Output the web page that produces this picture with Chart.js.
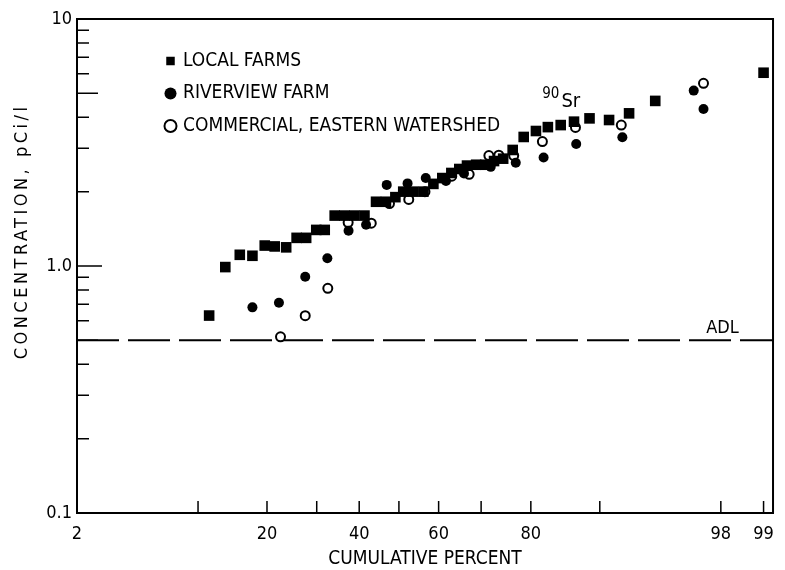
<!DOCTYPE html>
<html>
<head>
<meta charset="utf-8">
<script src="https://cdn.jsdelivr.net/npm/chart.js@4.4.0/dist/chart.umd.min.js"></script>
<style>
  html, body { margin: 0; padding: 0; background: #fff; }
  #wrap { width: 785px; height: 570px; }
</style>
</head>
<body>
<div id="wrap"><canvas id="chart"></canvas></div>
<script>
// cumulative percent and concentration (pCi/l)
var localPct  = [11.3, 13.4, 15.5, 17.5, 19.6, 21.4, 23.6, 25.7, 27.7, 29.9, 31.8, 34.1, 36.4, 38.8, 41.3,
                 44.2, 46.7, 49.1, 51.1, 53.6, 56.2, 58.7, 60.9, 63.1, 65.0, 66.8, 68.9, 70.9, 72.8, 74.7,
                 76.6, 78.7, 80.9, 82.9, 84.9, 86.8, 88.8, 91.0, 92.9, 94.9, 99.0];
var localConc = [0.63, 0.99, 1.11, 1.10, 1.21, 1.20, 1.19, 1.30, 1.30, 1.40, 1.40, 1.60, 1.60, 1.60, 1.60,
                 1.82, 1.82, 1.90, 2.00, 2.00, 2.00, 2.15, 2.27, 2.38, 2.47, 2.55, 2.57, 2.57, 2.66, 2.72,
                 2.95, 3.33, 3.52, 3.65, 3.72, 3.84, 3.96, 3.90, 4.15, 4.66, 6.06];

var riverPct  = [17.5, 22.2, 27.5, 32.4, 37.4, 41.7, 46.9, 52.2, 56.8, 61.8, 66.1, 72.1, 77.2, 82.2, 87.1, 92.3, 97.0, 97.4];
var riverConc = [0.68, 0.71, 0.905, 1.075, 1.39, 1.47, 2.13, 2.16, 2.27, 2.21, 2.37, 2.52, 2.62, 2.75, 3.12, 3.32, 5.13, 4.32];

var commPct  = [22.5, 27.5, 32.5, 37.3, 43.0, 47.6, 52.5, 56.6, 63.2, 67.3, 71.7, 73.8, 76.8, 82.0, 87.0, 92.2, 97.4];
var commConc = [0.517, 0.629, 0.812, 1.50, 1.49, 1.79, 1.86, 2.00, 2.31, 2.35, 2.80, 2.81, 2.80, 3.19, 3.64, 3.72, 5.49];

var xTicks  = [2, 10, 20, 30, 40, 50, 60, 70, 80, 90, 98, 99];
var xLabels = ['2', '', '20', '', '40', '', '60', '', '80', '', '98', '99'];
var xMin = 2, xMax = 99.15;
var yTicks  = [0.1, 0.2, 0.3, 0.4, 0.5, 0.6, 0.7, 0.8, 0.9, 1, 2, 3, 4, 5, 6, 7, 8, 9, 10];
var yLabels = { 0.1: '0.1', 1: '1.0', 10: '10' };
var adl = 0.5;
var yTitle = 'CONCENTRATION, pCi/l';

var FONT = "'DejaVu Sans Condensed', 'DejaVu Sans', sans-serif";

// inverse normal cdf (Acklam) -> probability axis
function probit(p) {
  var a = [-39.69683028665376, 220.9460984245205, -275.9285104469687, 138.3577518672690, -30.66479806614716, 2.506628277459239];
  var b = [-54.47609879822406, 161.5858368580409, -155.6989798598866, 66.80131188771972, -13.28068155288572];
  var c = [-0.007784894002430293, -0.3223964580411365, -2.400758277161838, -2.549671010139197, 4.374664141464968, 2.938163982698783];
  var d = [0.007784695709041462, 0.3224671290700398, 2.445134137142996, 3.754408661907416];
  var q, r;
  if (p < 0.02425) {
    q = Math.sqrt(-2 * Math.log(p));
    return (((((c[0]*q+c[1])*q+c[2])*q+c[3])*q+c[4])*q+c[5]) / ((((d[0]*q+d[1])*q+d[2])*q+d[3])*q+1);
  }
  if (p > 1 - 0.02425) {
    q = Math.sqrt(-2 * Math.log(1 - p));
    return -(((((c[0]*q+c[1])*q+c[2])*q+c[3])*q+c[4])*q+c[5]) / ((((d[0]*q+d[1])*q+d[2])*q+d[3])*q+1);
  }
  q = p - 0.5; r = q * q;
  return (((((a[0]*r+a[1])*r+a[2])*r+a[3])*r+a[4])*r+a[5])*q / (((((b[0]*r+b[1])*r+b[2])*r+b[3])*r+b[4])*r+1);
}

function points(pct, conc) {
  return pct.map(function (p, i) { return { x: probit(p / 100), y: conc[i] }; });
}

// frame, inward tick marks, ADL line and the text notes
var extras = {
  id: 'extras',
  beforeDatasetsDraw: function (chart) {
    var ctx = chart.ctx, a = chart.chartArea;
    var xs = chart.scales.x, ys = chart.scales.y;
    ctx.save();
    ctx.strokeStyle = '#000';
    ctx.lineWidth = 2;
    ctx.beginPath();
    ctx.moveTo(a.left, a.top); ctx.lineTo(a.right, a.top); ctx.lineTo(a.right, a.bottom);
    ctx.stroke();

    ctx.lineWidth = 1.5;
    ctx.beginPath();
    xTicks.forEach(function (p) {
      var x = xs.getPixelForValue(probit(p / 100));
      ctx.moveTo(x, a.bottom); ctx.lineTo(x, a.bottom - 12);
    });
    yTicks.forEach(function (v) {
      var y = ys.getPixelForValue(v);
      var len = yLabels[v] ? 25 : (v === 5 || v === 0.5 ? 21 : 12);
      ctx.moveTo(a.left, y); ctx.lineTo(a.left + len, y);
    });
    ctx.stroke();

    var ya = ys.getPixelForValue(adl);
    ctx.lineWidth = 2;
    ctx.setLineDash([42, 9]);
    ctx.beginPath();
    ctx.moveTo(a.left, ya); ctx.lineTo(a.right, ya);
    ctx.stroke();
    ctx.setLineDash([]);

    ctx.fillStyle = '#000';
    ctx.textBaseline = 'alphabetic';
    ctx.font = '18px ' + FONT;
    ctx.fillText('ADL', xs.getPixelForValue(probit(0.975)), ya - 7);

    var sx = xs.getPixelForValue(probit(0.85)), sy = ys.getPixelForValue(4.4);
    ctx.font = '20px ' + FONT;
    ctx.fillText('Sr', sx, sy);
    ctx.font = '15px ' + FONT;
    ctx.textAlign = 'right';
    ctx.fillText('90', sx - 2, sy - 9);

    // y title, letter-spaced like the original lettering, sitting a bit above centre
    ctx.translate(22, a.top + (a.bottom - a.top) * 0.43);
    ctx.rotate(-Math.PI / 2);
    ctx.textAlign = 'center';
    ctx.textBaseline = 'middle';
    ctx.font = '18px ' + FONT;
    ctx.letterSpacing = '3.5px';
    ctx.fillText(yTitle, 0, 0);
    ctx.letterSpacing = '0px';
    ctx.restore();
  },
  afterLayout: function (chart) {
    var lg = chart.legend;
    var w = lg.width, h = lg.height;
    lg.left = 154; lg.top = 38;
    lg.right = lg.left + w; lg.bottom = lg.top + h;
  }
};

new Chart(document.getElementById('chart'), {
  type: 'scatter',
  data: {
    datasets: [
      { label: 'LOCAL FARMS', data: points(localPct, localConc), pointStyle: 'rect',
        pointRadius: 7.5, backgroundColor: '#000', borderColor: '#000', borderWidth: 0 },
      { label: 'RIVERVIEW FARM', data: points(riverPct, riverConc), pointStyle: 'circle',
        pointRadius: 5, backgroundColor: '#000', borderColor: '#000', borderWidth: 0 },
      { label: 'COMMERCIAL, EASTERN WATERSHED', data: points(commPct, commConc), pointStyle: 'circle',
        pointRadius: 4.5, backgroundColor: '#fff', borderColor: '#000', borderWidth: 2 }
    ]
  },
  options: {
    responsive: true,
    maintainAspectRatio: false,
    animation: false,
    devicePixelRatio: 1,
    layout: { padding: { top: 19, right: 10, left: 0, bottom: 0 } },
    plugins: {
      tooltip: { enabled: false },
      legend: {
        position: 'chartArea',
        align: 'start',
        labels: {
          usePointStyle: true, boxWidth: 6, boxHeight: 8.5, padding: 13.5,
          color: '#000', font: { family: FONT, size: 19 }
        }
      }
    },
    scales: {
      x: {
        type: 'linear',
        min: probit(xMin / 100), max: probit(xMax / 100),
        afterBuildTicks: function (s) { s.ticks = xTicks.map(function (p) { return { value: probit(p / 100) }; }); },
        afterFit: function (s) { s.height = 57; },
        grid: { display: false, drawTicks: false },
        border: { display: true, color: '#000', width: 2 },
        ticks: {
          autoSkip: false, maxRotation: 0, padding: 11, color: '#000',
          font: { family: FONT, size: 18 },
          callback: function (v, i) { return xLabels[i]; }
        },
        title: { display: true, text: 'CUMULATIVE PERCENT', color: '#000',
          font: { family: FONT, size: 19 }, padding: { top: 0, bottom: 0 } }
      },
      y: {
        type: 'logarithmic',
        min: 0.1, max: 10,
        afterBuildTicks: function (s) { s.ticks = yTicks.map(function (v) { return { value: v }; }); },
        afterFit: function (s) { s.width = 77; },
        grid: { display: false, drawTicks: false },
        border: { display: true, color: '#000', width: 2 },
        ticks: {
          autoSkip: false, padding: 5, color: '#000',
          font: { family: FONT, size: 18 },
          callback: function (v) { return yLabels[v] || ''; }
        },
        title: { display: false }
      }
    }
  },
  plugins: [extras]
});
</script>
</body>
</html>
